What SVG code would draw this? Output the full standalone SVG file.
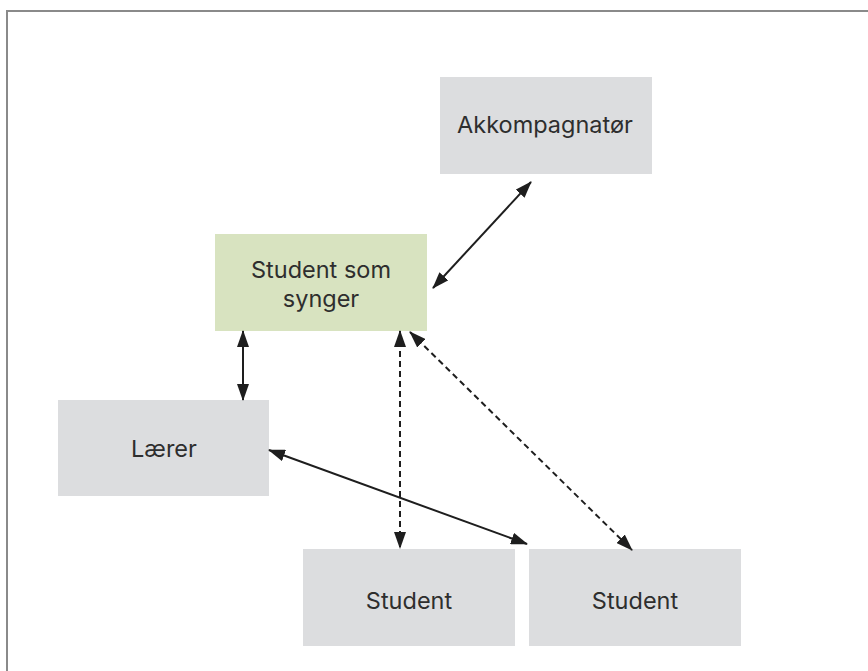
<svg xmlns="http://www.w3.org/2000/svg" width="868" height="671" viewBox="0 0 868 671">
  <style>
    .box { fill: #dcdddf; }
    .hl { fill: #d8e3c0; }
    .lbl { font-family: Inter, "Liberation Sans", sans-serif; font-size: 23.5px; fill: #2e2e2e; text-anchor: middle; }
    .link { stroke: #1e1e1e; stroke-width: 2; fill: none; marker-start: url(#head); marker-end: url(#head); }
    .dash { stroke-dasharray: 6 4; }
  </style>
  <defs>
    <marker id="head" viewBox="0 0 17 12" refX="16" refY="6" markerWidth="17" markerHeight="12" markerUnits="userSpaceOnUse" orient="auto-start-reverse">
      <path d="M0,0 L17,6 L0,12 Z" fill="#1e1e1e"/>
    </marker>
  </defs>
  <rect width="868" height="671" fill="#ffffff"/>
  <!-- outer frame -->
  <path d="M7,680 V11 H880" fill="none" stroke="#8a8a8a" stroke-width="2"/>

  <g id="akkompagnator">
    <rect class="box" x="440" y="77" width="212" height="97"/>
    <text class="lbl" x="545" y="133">Akkompagnatør</text>
  </g>
  <g id="student-som-synger">
    <rect class="hl" x="215" y="234" width="212" height="97"/>
    <text class="lbl" x="321" y="278">Student som</text>
    <text class="lbl" x="321" y="307">synger</text>
  </g>
  <g id="laerer">
    <rect class="box" x="58" y="400" width="211" height="96"/>
    <text class="lbl" x="164" y="457">Lærer</text>
  </g>
  <g id="student-1">
    <rect class="box" x="303" y="549" width="212" height="97"/>
    <text class="lbl" x="409" y="609">Student</text>
  </g>
  <g id="student-2">
    <rect class="box" x="529" y="549" width="212" height="97"/>
    <text class="lbl" x="635" y="609">Student</text>
  </g>

  <g id="connectors">
    <line class="link" x1="531" y1="182" x2="433" y2="288"/>
    <line class="link" x1="243" y1="331" x2="243" y2="400"/>
    <line class="link dash" x1="400" y1="331" x2="400" y2="548"/>
    <line class="link dash" x1="410" y1="332" x2="632" y2="550"/>
    <line class="link" x1="269" y1="450" x2="527" y2="544"/>
  </g>
</svg>
